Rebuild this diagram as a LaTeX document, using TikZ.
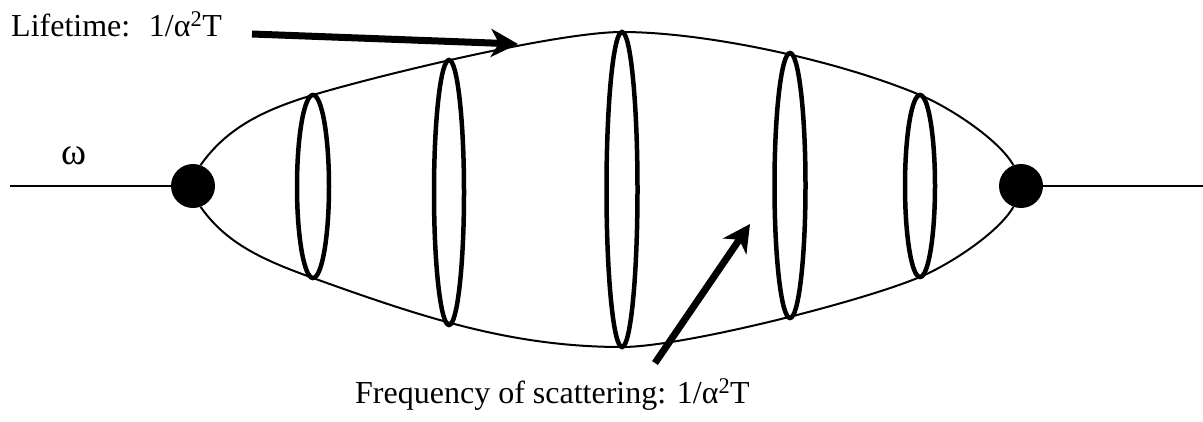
\documentclass[tikz,border=0pt]{standalone}
\usepackage{fontspec}
\setmainfont{Liberation Serif}
\usetikzlibrary{arrows.meta}
\begin{document}
\begin{tikzpicture}[x=1pt,y=-1pt,
  dot/.style={circle,fill=black,minimum size=44pt,inner sep=0pt},
  lensline/.style={line width=2pt},
  ringline/.style={line width=4.5pt},
  bigarrow/.style={line width=7pt,-{Stealth[length=27pt,width=28pt,inset=8pt]}},
  lbl/.style={font=\fontsize{32}{38}\selectfont,inner sep=0pt}
]
\useasboundingbox (0,0) rectangle (1203,421);
% vertices
\node[dot] (L) at (193,186) {};
\node[dot] (R) at (1021,186) {};
\coordinate (LE) at (10,186);
\coordinate (RE) at (1203,186);
\draw[lensline] (LE) -- (L);
\draw[lensline] (R) -- (RE);
% lens, upper arc
\draw[lensline] (L.70)
  .. controls (226.3,128.4) and (263,110) .. (313,95)
  .. controls (378,75.5) and (557,32) .. (622,32)
  .. controls (705,32) and (837,60.1) .. (920,95)
  .. controls (950,107.6) and (998.5,139.3) .. (R.110);
% lens, lower arc
\draw[lensline] (L.-70)
  .. controls (226.3,243.6) and (263,260) .. (313,278)
  .. controls (423,317.6) and (512,347) .. (622,347)
  .. controls (682,347) and (860,302.2) .. (920,277)
  .. controls (950,264.4) and (998.5,232.7) .. (R.-110);
% rings
\draw[ringline] (313,186.5) ellipse [x radius=16,y radius=91.5];
\draw[ringline] (449,192.5) ellipse [x radius=15,y radius=132.5];
\draw[ringline] (622,189.5) ellipse [x radius=15.5,y radius=157.5];
\draw[ringline] (790,185.5) ellipse [x radius=15.5,y radius=132.5];
\draw[ringline] (920,186) ellipse [x radius=15,y radius=91];
% labels
\node[lbl,font=\fontsize{38}{44}\selectfont] (w) at (74,156) {ω};
\node[lbl,anchor=base west] (lt) at (11,36) {Lifetime:~ 1/α\textsuperscript{2}T};
\node[lbl,anchor=base west] (fs) at (355,403) {Frequency of scattering: 1/α\textsuperscript{2}T};
% arrows
\coordinate (a1s) at (252,34);
\coordinate (a1e) at (518,44);
\draw[bigarrow] (a1s) -- (a1e);
\coordinate (a2s) at (655,363);
\coordinate (a2e) at (750,224);
\draw[bigarrow] (a2s) -- (a2e);
\end{tikzpicture}
\end{document}
